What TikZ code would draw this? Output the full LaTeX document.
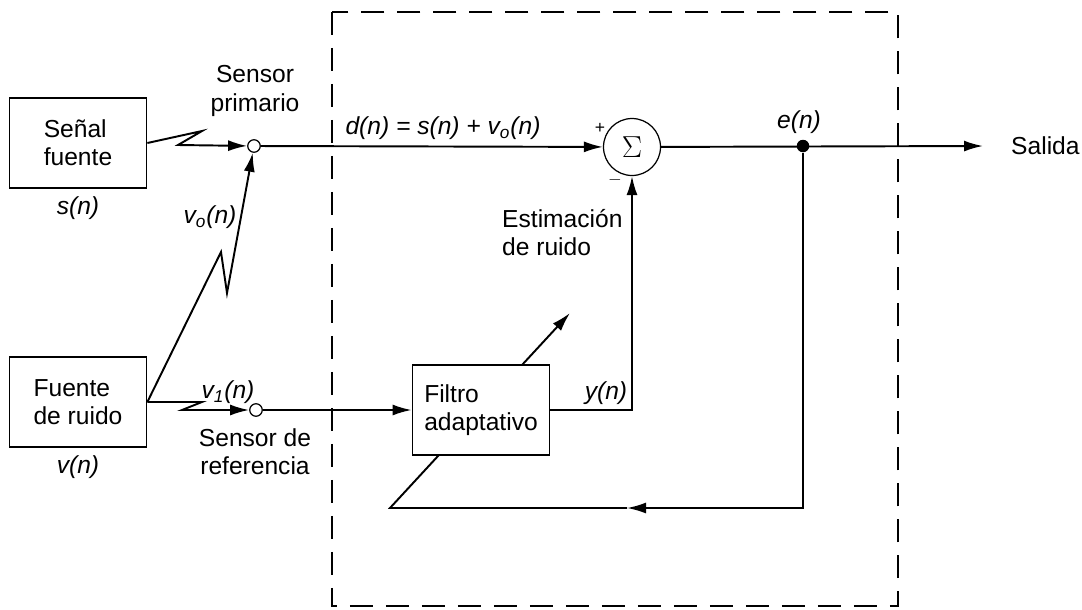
\documentclass[tikz,border=0pt]{standalone}
\usepackage{fontspec}
\setmainfont{Liberation Sans}
\usetikzlibrary{arrows.meta,positioning}
\tikzset{
  bloque/.style={
    draw,
    line width=1pt,
    fill=white,
    align=left,
    minimum width=2.74cm,
    minimum height=1.8cm,
    font=\fontsize{14}{16}\selectfont
  },
  sensor/.style={
    circle,
    draw,
    line width=0.7pt,
    fill=white,
    inner sep=0pt,
    minimum size=0.25cm
  },
  sumador/.style={
    circle,
    draw,
    line width=0.7pt,
    fill=white,
    inner sep=0pt,
    minimum size=1.14cm,
    font=\LARGE
  },
  punto/.style={
    circle,
    fill=black,
    inner sep=0pt,
    minimum size=0.25cm
  },
  etiqueta/.style={
    align=left,
    font=\fontsize{14}{16}\selectfont
  },
  senal/.style={
    font=\fontsize{14}{16}\selectfont\itshape
  },
  signo/.style={
    font=\normalsize,
    inner sep=1pt
  },
  flecha/.style={
    -{Latex[length=3.8mm,width=2.2mm]},
    line width=1.1pt
  },
  marco/.style={
    line width=0.8pt,
    dash pattern=on 0.46cm off 0.26cm
  }
}

\begin{document}
\begin{tikzpicture}[x=0.02cm, y=-0.02cm]
    \useasboundingbox (0,0) rectangle (1082,609);
    \draw[marco] (332,12) rectangle (898,606);

    % fuentes
    \node[bloque] (fuente) at (78,143) {Señal\\fuente};
    \node[bloque] (ruido) at (78,402) {Fuente\\de ruido};
    \node[senal, below=1pt of fuente] (sn) {s(n)};
    \node[senal, below=1pt of ruido] (vn) {v(n)};

    % sensores
    \node[sensor] (sprim) at (254,146) {};
    \node[sensor] (sref) at (256,410) {};
    \node[etiqueta, align=center] (lprim) at (255,91) {Sensor\\primario};
    \node[etiqueta, align=center] (lref) at (255,452) {Sensor de\\referencia};

    % trayectos en zigzag
    \coordinate (za) at (202,131);
    \coordinate (zb) at (178,145);
    \coordinate (zc) at (221,252);
    \coordinate (zd) at (227,293);
    \coordinate (ze) at (202,402);
    \coordinate (zf) at (182,410);
    \draw[flecha] (fuente.east) -- (za) -- (zb) -- (sprim);
    \draw[flecha] (ruido.east) -- (zc) -- (zd) -- (sprim);
    \draw[flecha] (ruido.east) -- (ze) -- (zf) -- (sref);
    \node[senal] (lvo) at (210,217) {v\textsubscript{o}(n)};
    \node[senal] (lvi) at (228,392) {v\textsubscript{1}(n)};

    % sumador y salida
    \node[sumador] (suma) at (632,147) {$\Sigma$};
    \node[punto] (en) at (803,146) {};
    \coordinate (out) at (983,146);
    \draw[flecha] (sprim) -- (suma);
    \draw[flecha] (suma) -- (out);
    \node[etiqueta, anchor=west] (salida) at (1005,146) {Salida};
    \node[senal] (ldn) at (443,128) {d(n) = s(n) + v\textsubscript{o}(n)};
    \node[senal] (len) at (799,122) {e(n)};
    \node[signo] (mas) at (600,128) {+};
    \node[signo] (menos) at (615,180) {$-$};

    % realimentacion y filtro
    \coordinate (fbmid) at (627,508);
    \coordinate (fbk) at (390,508);
    \coordinate (adapt) at (570,313);
    \draw[flecha] (en) |- (fbmid);
    \draw[flecha] (fbmid) -- (fbk) -- (adapt);
    \node[bloque] (filtro) at (481,410) {Filtro\\adaptativo};
    \draw[flecha] (sref) -- (filtro);
    \draw[flecha] (filtro) -| (suma);
    \node[senal] (lyn) at (606,393) {y(n)};
    \node[etiqueta, anchor=west] (lest) at (496,233) {Estimación\\de ruido};
\end{tikzpicture}
\end{document}
